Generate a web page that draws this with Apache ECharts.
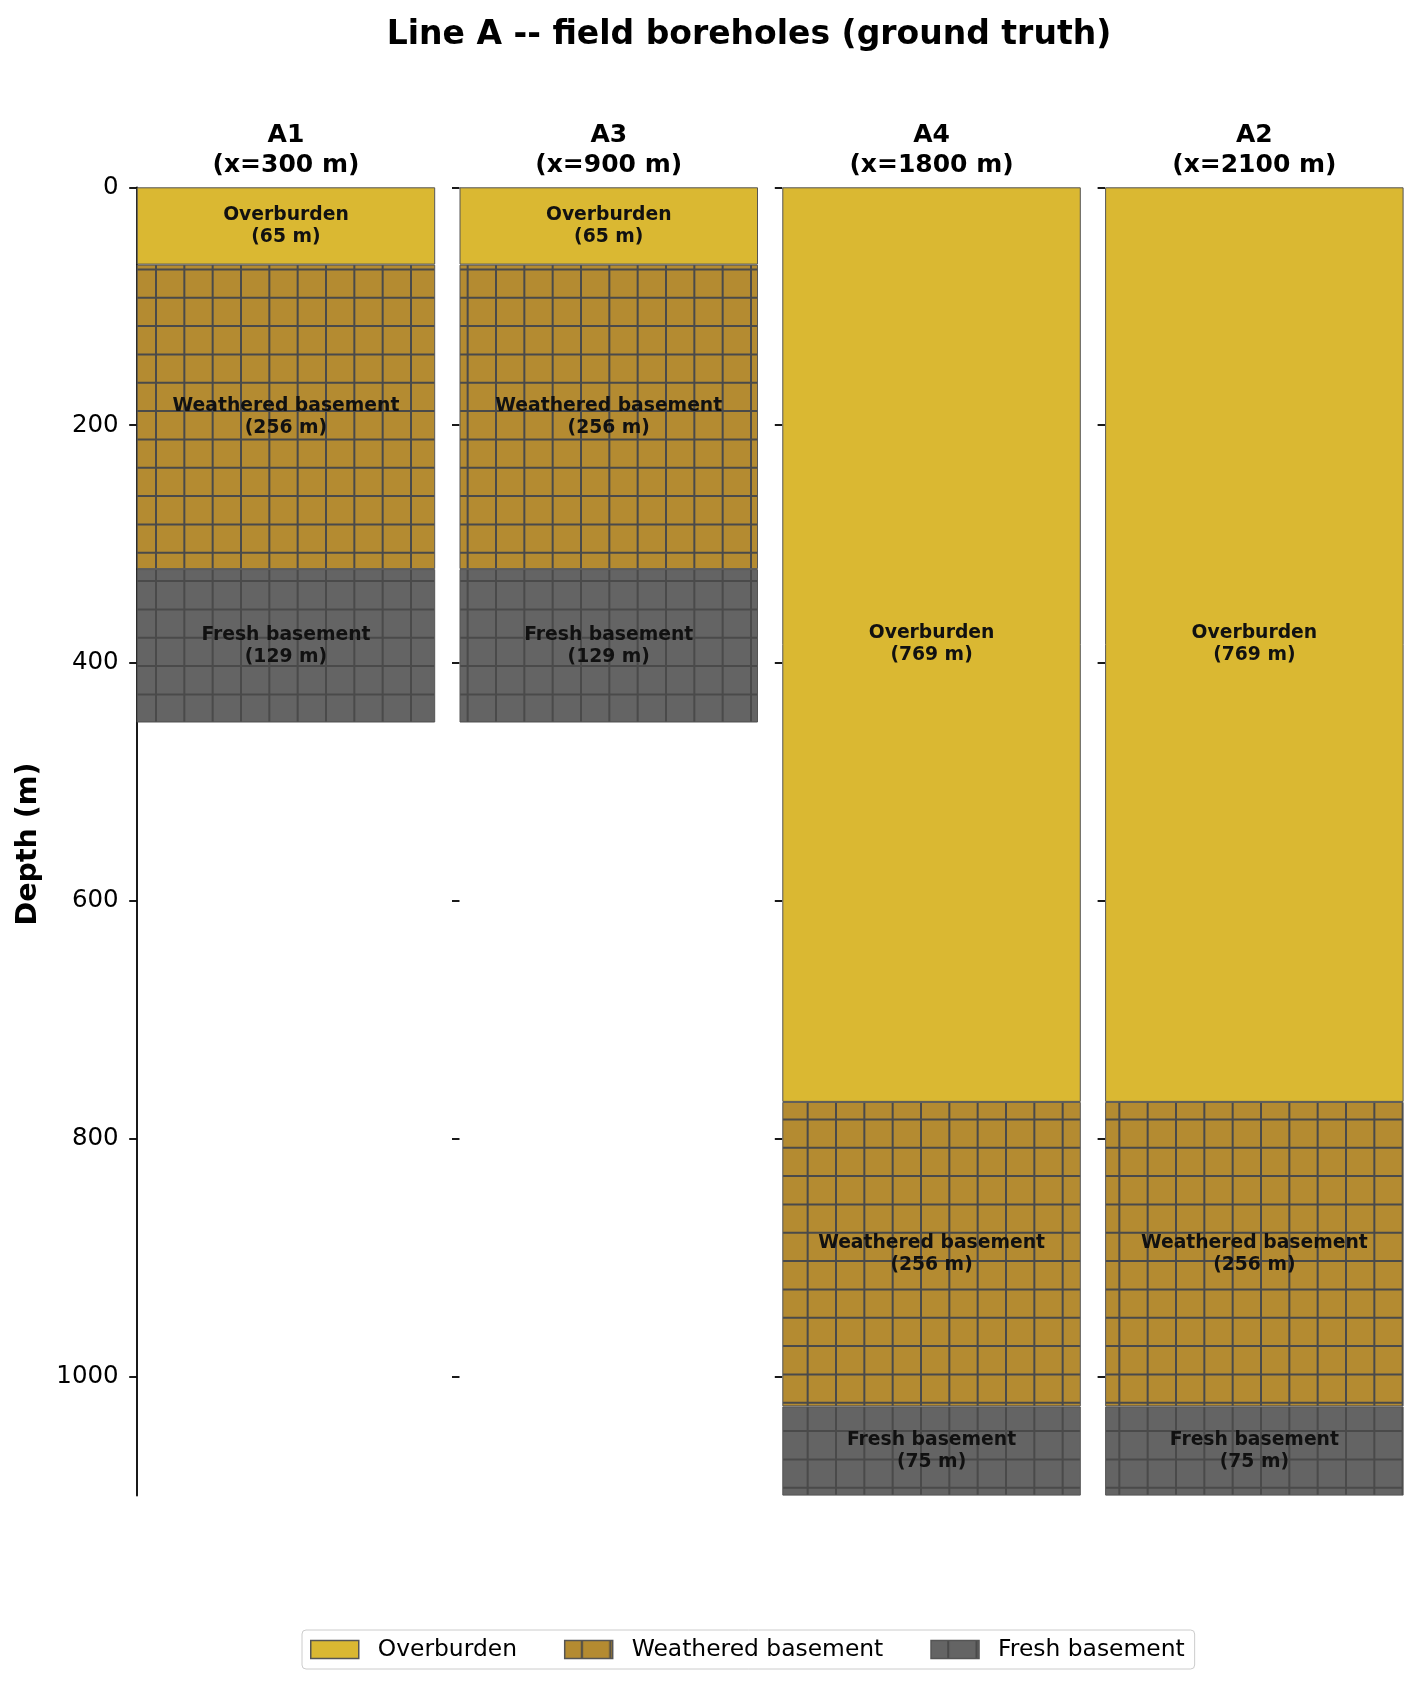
<!DOCTYPE html>
<html>
<head>
<meta charset="utf-8">
<title>Line A -- field boreholes</title>
<script src="https://cdn.jsdelivr.net/npm/echarts@6.0.0/dist/echarts.min.js"></script>
<style>
  html, body { margin: 0; padding: 0; background: #fff; }
  #chart { width: 1419px; height: 1688px; }
</style>
</head>
<body>
<div id="chart"></div>
<script>
// boreholes along line A, in plotting order
var boreholes = ['A1', 'A3', 'A4', 'A2'];
var boreholeX = [300, 900, 1800, 2100];
// layer thickness (m), one value per borehole
var overburden = [65, 65, 769, 769];
var weathered = [256, 256, 256, 256];
var fresh = [129, 129, 75, 75];
var depthTicks = [0, 200, 400, 600, 800, 1000];
var layerNames = ['Overburden', 'Weathered basement', 'Fresh basement'];

var FONT = 'DejaVu Sans';
var colors = ['#dab832', '#b48b31', '#646464'];

// square grid hatch, tile holds 3 cells so spacing stays 28.33px
function gridHatch(base, ox, oy, noRows) {
  var size = 85, cell = size / 3;
  var c = document.createElement('canvas');
  c.width = size; c.height = size;
  var ctx = c.getContext('2d');
  ctx.fillStyle = base;
  ctx.fillRect(0, 0, size, size);
  ctx.strokeStyle = '#4a4a4a';
  ctx.lineWidth = 2;
  for (var k = 0; k < 3; k++) {
    var px = ox + k * cell, py = oy + k * cell;
    ctx.beginPath(); ctx.moveTo(px, 0); ctx.lineTo(px, size); ctx.stroke();
    if (!noRows) {
      ctx.beginPath(); ctx.moveTo(0, py); ctx.lineTo(size, py); ctx.stroke();
    }
  }
  return { image: c, repeat: 'repeat' };
}

var fills = [colors[0], gridHatch(colors[1], 14.33, 14.4), gridHatch(colors[2], 14.33, 14.4)];
// legend swatches only show one vertical hatch line through the middle
var swatches = [colors[0], gridHatch(colors[1], 17.2, 0, true), gridHatch(colors[2], 17.2, 0, true)];
var layers = [overburden, weathered, fresh];

var panelLeft = 136.7, panelW = 298.5, panelStep = 322.8;
var grids = [], xAxes = [], yAxes = [], series = [];

boreholes.forEach(function (name, i) {
  grids.push({ left: panelLeft + i * panelStep, top: 187.3, width: panelW, height: 1308.3 });
  xAxes.push({
    gridIndex: i,
    type: 'category',
    position: 'top',
    data: [name + '\n(x=' + boreholeX[i] + ' m)'],
    axisLine: { show: false },
    axisTick: { show: false },
    axisLabel: {
      interval: 0, margin: 7,
      fontFamily: FONT, fontSize: 25, fontWeight: 'bold', color: '#000', lineHeight: 30
    }
  });
  yAxes.push({
    gridIndex: i,
    type: 'value',
    inverse: true,
    min: 0, max: 1100, interval: 200,
    splitLine: { show: false },
    axisLine: { show: i === 0, lineStyle: { color: '#000', width: 1.8 } },
    axisTick: { show: true, customValues: depthTicks, length: 7.5, lineStyle: { color: '#000', width: 1.8 } },
    axisLabel: {
      show: i === 0, customValues: depthTicks, margin: 18,
      formatter: function (v) { return String(v); },
      fontFamily: FONT, fontSize: 24.5, color: '#000'
    }
  });
  layers.forEach(function (vals, j) {
    series.push({
      type: 'bar',
      name: layerNames[j],
      xAxisIndex: i, yAxisIndex: i,
      stack: 'bh' + i,
      barWidth: '100%',
      data: [vals[i]],
      itemStyle: { color: fills[j], borderColor: '#555', borderWidth: 1 },
      label: {
        show: true, position: 'inside',
        formatter: function (p) { return p.seriesName + '\n(' + p.value + ' m)'; },
        fontFamily: FONT, fontSize: 18.75, fontWeight: 'bold', color: '#111', lineHeight: 22
      }
    });
  });
});

var chart = echarts.init(document.getElementById('chart'));
chart.setOption({
  animation: false,
  backgroundColor: '#fff',
  title: {
    text: 'Line A -- field boreholes (ground truth)',
    left: 749, top: 19, textAlign: 'center', padding: 0,
    textStyle: { fontFamily: FONT, fontSize: 33, fontWeight: 'bold', color: '#000' }
  },
  graphic: [{
    type: 'text', x: 29, y: 844, rotation: Math.PI / 2,
    style: {
      text: 'Depth (m)', align: 'center', verticalAlign: 'middle',
      font: 'bold 28.5px "DejaVu Sans"', fill: '#000'
    }
  }],
  legend: {
    data: layerNames.map(function (n, j) {
      return { name: n, itemStyle: { color: swatches[j] } };
    }),
    left: 302, top: 1630,
    icon: 'rect',
    itemWidth: 48, itemHeight: 18, itemGap: 47,
    padding: [8, 10, 8, 8],
    backgroundColor: '#fff', borderColor: '#cccccc', borderWidth: 1, borderRadius: 4,
    selectedMode: false,
    itemStyle: { borderColor: '#555', borderWidth: 1.5 },
    textStyle: { fontFamily: FONT, fontSize: 23.4, color: '#000', padding: [0, 0, 0, 14] }
  },
  grid: grids,
  xAxis: xAxes,
  yAxis: yAxes,
  series: series
});
</script>
</body>
</html>
